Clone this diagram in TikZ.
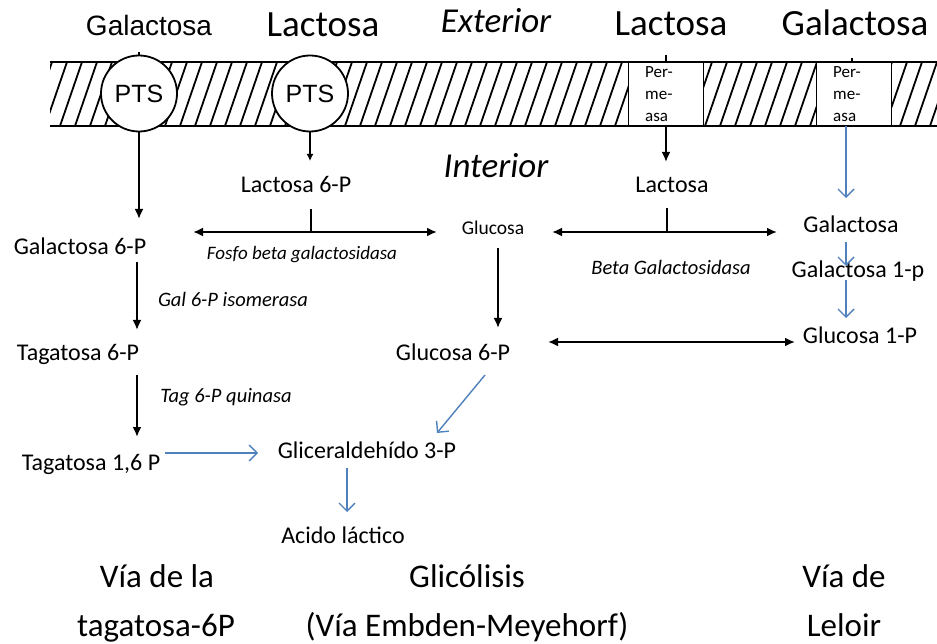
\documentclass[tikz,border=0pt]{standalone}
\usepackage{fontspec}
\setmainfont{Carlito}
\newfontfamily\arialf{Liberation Sans}
\usetikzlibrary{arrows.meta}
\definecolor{arrblue}{RGB}{79,129,189}
\begin{document}
\begin{tikzpicture}[x=1pt,y=-1pt,
  txt/.style={inner sep=0pt, anchor=base},
  toplbl/.style={txt, font=\fontsize{37}{44}\selectfont},
  place/.style={txt, font=\fontsize{35}{42}\selectfont\itshape},
  mol/.style={txt, font=\fontsize{24}{29}\selectfont},
  enz/.style={txt, font=\fontsize{20.5}{24}\selectfont\itshape},
  smallmol/.style={txt, font=\fontsize{19.5}{23}\selectfont},
  permtxt/.style={txt, anchor=base west, font=\fontsize{17}{20}\selectfont},
  pathlbl/.style={txt, font=\fontsize{33}{40}\selectfont},
  bline/.style={line width=2.6pt},
  blk/.style={line width=2.6pt, -{Latex[length=10pt,width=9pt]}},
  blksmall/.style={line width=2.2pt, -{Latex[length=7pt,width=7pt]}},
  blk2/.style={line width=2.6pt, {Latex[length=10pt,width=9pt]}-{Latex[length=10pt,width=9pt]}},
  blu/.style={line width=1.4pt, draw=arrblue, -{Straight Barb[length=8pt,width=16pt]}},
  mem/.style={line width=2.4pt},
  hatch/.style={line width=1.8pt},
  pts/.style={circle, draw, line width=1.8pt, fill=white, minimum size=76pt, inner sep=0pt, font=\arialf\fontsize{25}{28}\selectfont},
  permbox/.style={draw, line width=1.8pt, fill=white, minimum width=75pt, minimum height=64pt, inner sep=0pt}]
\useasboundingbox (0,0) rectangle (937,644);
\fill[white] (0,0) rectangle (937,644);

% membrane
\begin{scope}
  \clip (50,62) rectangle (937,126);
  \foreach \i in {0,...,64} \draw[hatch] ({30+15*\i},126) -- ({52+15*\i},62);
\end{scope}
\draw[mem] (50,62) -- (937,62);
\draw[mem] (50,126) -- (937,126);

\node[pts] (pts1) at (139,93.5) {PTS};
\node[pts] (pts2) at (310,93.5) {PTS};
\node[permbox] (perm1) at (666,94) {};
\node[permbox] (perm2) at (854,94) {};
\node[permtxt] (p1a) at (645,78) {Per-};
\node[permtxt] (p1b) at (645,100) {me-};
\node[permtxt] (p1c) at (645,122) {asa};
\node[permtxt] (p2a) at (833,78) {Per-};
\node[permtxt] (p2b) at (833,100) {me-};
\node[permtxt] (p2c) at (833,122) {asa};

% small stubs above transporters
\coordinate (k1) at (139,52);
\coordinate (k2) at (666,55);
\coordinate (k3) at (852,58);
\draw[line width=1.5pt] (k1) -- (pts1.north);
\draw[line width=1.5pt] (k2) -- (perm1.north);
\draw[line width=1.5pt] (k3) -- (852,62);

% texts
\node[txt, font=\arialf\fontsize{28}{34}\selectfont] (tgal) at (149,36) {Galactosa};
\node[toplbl] (tlac) at (323,37) {Lactosa};
\node[place] (ext) at (496,33) {Exterior};
\node[toplbl] (tlac2) at (671,36) {Lactosa};
\node[toplbl] (tgal2) at (855,36) {Galactosa};

\node[place] (int) at (496,178) {Interior};
\node[mol] (lac6p) at (296,193) {Lactosa 6-P};
\node[mol] (lacint) at (672,193) {Lactosa};
\node[smallmol] (glc) at (493,235) {Glucosa};
\node[mol] (galr) at (851,233) {Galactosa};
\node[mol] (gal6p) at (80,255) {Galactosa 6-P};
\node[enz, font=\fontsize{19}{23}\selectfont\itshape] (fosfo) at (302,260) {Fosfo beta galactosidasa};
\node[enz] (betag) at (671,275) {Beta Galactosidasa};
\node[mol] (gal1p) at (858,278) {Galactosa 1-p};
\node[enz] (isom) at (233,307) {Gal 6-P isomerasa};
\node[mol] (tag6p) at (78,360) {Tagatosa 6-P};
\node[mol] (glc6p) at (453,360) {Glucosa 6-P};
\node[mol] (glc1p) at (860,343) {Glucosa 1-P};
\node[enz] (quin) at (226,402) {Tag 6-P quinasa};
\node[mol] (tag16p) at (91,470) {Tagatosa 1,6 P};
\node[mol] (gli) at (367,458) {Gliceraldehído 3-P};
\node[mol] (acido) at (343,543) {Acido láctico};

\node[pathlbl] (v1a) at (157,587) {Vía de la};
\node[pathlbl] (v1b) at (156,636) {tagatosa-6P};
\node[pathlbl] (v2a) at (467,587) {Glicólisis};
\node[pathlbl] (v2b) at (467,636) {(Vía Embden-Meyehorf)};
\node[pathlbl] (v3a) at (844,587) {Vía de};
\node[pathlbl] (v3b) at (844,636) {Leloir};

% connector end points
\coordinate (e1) at (139,219);
\coordinate (e2) at (310,161);
\coordinate (e3) at (666,162);
\coordinate (b4) at (846,126);
\coordinate (e4) at (846,198);
\coordinate (s1a) at (311,209);
\coordinate (s1) at (311,232);
\coordinate (s1l) at (193,232);
\coordinate (s1r) at (437,232);
\coordinate (s2a) at (667,208);
\coordinate (s2) at (667,232);
\coordinate (s2l) at (552,232);
\coordinate (s2r) at (777,232);
\coordinate (b7) at (498,248);
\coordinate (e7) at (498,328);
\coordinate (b8) at (137,262);
\coordinate (e8) at (137,330);
\coordinate (b9) at (137,375);
\coordinate (e9) at (137,437);
\coordinate (b10) at (548,342);
\coordinate (e10) at (795,342);
\coordinate (b11) at (485,375);
\coordinate (e11) at (437,433);
\coordinate (b12) at (165,453);
\coordinate (e12) at (258,453);
\coordinate (b13) at (347,468);
\coordinate (e13) at (347,512);
\coordinate (b14) at (846,242);
\coordinate (e14) at (846,266);
\coordinate (b15) at (846,280);
\coordinate (e15) at (846,318);

% connectors
\draw[blk] (pts1.south) -- (e1);
\draw[blksmall] (pts2.south) -- (e2);
\draw[blk] (perm1.south) -- (e3);
\draw[blu] (b4) -- (e4);
\draw[bline] (s1a) -- (s1);
\draw[blk2] (s1l) -- (s1r);
\draw[bline] (s2a) -- (s2);
\draw[blk2] (s2l) -- (s2r);
\draw[blk] (b7) -- (e7);
\draw[blk] (b8) -- (e8);
\draw[blk] (b9) -- (e9);
\draw[blk2] (b10) -- (e10);
\draw[blu] (b11) -- (e11);
\draw[blu] (b12) -- (e12);
\draw[blu] (b13) -- (e13);
\draw[blu] (b14) -- (e14);
\draw[blu] (b15) -- (e15);
\end{tikzpicture}
\end{document}
